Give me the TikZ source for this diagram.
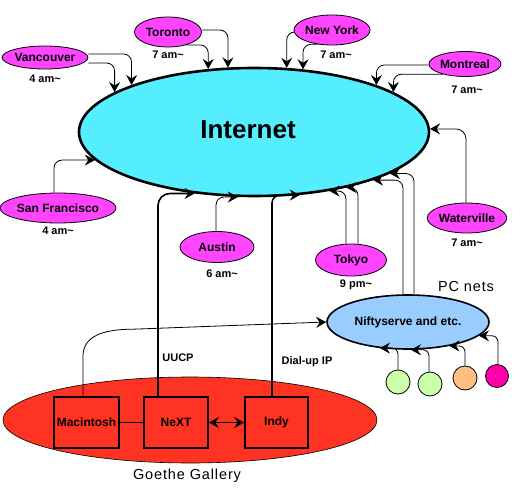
\documentclass[tikz,border=0pt]{standalone}
\usepackage{fontspec}
\setmainfont{Liberation Sans}
\usetikzlibrary{arrows.meta,shapes.geometric}
\definecolor{inetc}{RGB}{85,238,255}
\definecolor{cityc}{RGB}{255,68,255}
\definecolor{niftyc}{RGB}{153,204,255}
\definecolor{galc}{RGB}{255,51,34}
\definecolor{greenc}{RGB}{204,255,170}
\definecolor{peachc}{RGB}{255,192,128}
\definecolor{pinkc}{RGB}{255,0,170}
\begin{document}
\begin{tikzpicture}[x=1pt,y=-1pt,
  city/.style={ellipse,draw,fill=cityc,line width=0.8pt,inner sep=0pt,font=\bfseries\fontsize{12}{14}\selectfont},
  timelbl/.style={font=\bfseries\fontsize{11}{13}\selectfont,inner sep=0pt},
  tipb/.tip={Stealth[length=10pt,width=11pt,inset=3.5pt]},
  arr/.style={-tipb,line width=0.8pt,rounded corners=8pt},
  thickarr/.style={-tipb,line width=1.6pt,rounded corners=12pt},
  machine/.style={rectangle,draw,line width=1.6pt,inner sep=0pt,minimum height=51pt,font=\bfseries\fontsize{12}{14}\selectfont},
  pc/.style={circle,draw,line width=0.8pt,inner sep=0pt,minimum size=24pt},
  plain/.style={inner sep=0pt,font=\fontsize{14.5}{16}\selectfont\addfontfeature{LetterSpace=6}},
  linklbl/.style={inner sep=0pt,font=\bfseries\fontsize{11}{13}\selectfont}
]
\useasboundingbox (0,0) rectangle (514,489);

% Goethe Gallery
\node[ellipse,draw,fill=galc,line width=0.6pt,minimum width=374pt,minimum height=86pt,inner sep=0pt] (gal) at (190,420) {};
\node[plain] (galtxt) at (187,476) {Goethe Gallery};
\node[machine,minimum width=65pt] (mac) at (86.5,422.5) {Macintosh};
\node[machine,minimum width=64pt] (next) at (176,422.5) {NeXT};
\node[machine,minimum width=63pt] (indy) at (276.5,422.5) {Indy};
\draw[line width=1.6pt] (mac) -- (next);
\draw[{Stealth[length=10pt,width=11pt,inset=3.5pt]}-{Stealth[length=10pt,width=11pt,inset=3.5pt]},line width=1.6pt] (next) -- (indy);

% Internet
\node[ellipse,draw,fill=inetc,line width=2.6pt,minimum width=350pt,minimum height=128pt,inner sep=0pt] (inet) at (254,132) {};
\node[inner sep=0pt,font=\bfseries\fontsize{26}{30}\selectfont] (inettxt) at (248,130) {Internet};

% cities
\node[city,minimum width=76pt,minimum height=23pt] (vanc) at (45,57.5) {Vancouver};
\node[timelbl] (vanct) at (45,79) {4 am\char`~};
\node[city,minimum width=67pt,minimum height=30pt] (tor) at (168,32) {Toronto};
\node[timelbl] (tort) at (168,55) {7 am\char`~};
\node[city,minimum width=70pt,minimum height=30pt] (ny) at (332,30) {New York};
\node[timelbl] (nyt) at (336,55) {7 am\char`~};
\node[city,minimum width=72pt,minimum height=25pt] (mon) at (465,64) {Montreal};
\node[timelbl] (mont) at (467,90) {7 am\char`~};
\node[city,minimum width=90pt,minimum height=30pt] (sf) at (58,208) {San Francisco};
\node[timelbl] (sft) at (58,231) {4 am\char`~};
\node[city,minimum width=74pt,minimum height=31pt] (aus) at (217,247) {Austin};
\node[timelbl] (aust) at (222,274) {6 am\char`~};
\node[city,minimum width=71pt,minimum height=32pt] (tok) at (351,260) {Tokyo};
\node[timelbl] (tokt) at (356,285) {9 pm\char`~};
\node[city,minimum width=77pt,minimum height=30pt] (wat) at (467,218) {Waterville};
\node[timelbl] (watt) at (467,243) {7 am\char`~};

% PC nets
\node[ellipse,draw,fill=niftyc,line width=1.6pt,minimum width=162pt,minimum height=54pt,inner sep=0pt,font=\bfseries\fontsize{12}{14}\selectfont] (nifty) at (408,322) {Niftyserve and etc.};
\node[plain] (pcnets) at (466,287) {PC nets};
\node[pc,fill=greenc] (c1) at (398,382) {};
\node[pc,fill=greenc] (c2) at (430,384) {};
\node[pc,fill=peachc] (c3) at (465,378) {};
\node[pc,fill=pinkc,minimum size=23pt] (c4) at (497,376) {};

% arrows into Internet from above
\draw[arr] ([yshift=3.5pt]vanc.east) -| (inet.159.5);
\draw[arr] ([yshift=-5.5pt]vanc.east) -| (inet.164.5);
\draw[arr] ([yshift=2pt]tor.east) -| (inet.112.1);
\draw[arr] (tor.-35) -| (inet.126.6);
\draw[arr] ([yshift=-2pt]ny.west) -| (inet.63.4);
\draw[arr] (ny.-135) -| (inet.52.3);
\draw[arr] ([yshift=-1pt]mon.west) -| (inet.21.9);
\draw[arr] (mon.-155) -| (inet.16.9);

% arrows into Internet from below
\draw[arr] ([xshift=-4pt]sf.north) |- (inet.190.8);
\draw[arr] ([xshift=-1pt]aus.north) |- (inet.256.4);
\draw[arr] ([xshift=-5pt]tok.north) |- (inet.322.9);
\draw[arr] ([xshift=7pt]tok.north) |- (inet.329);
\draw[arr] ([xshift=-5pt]nifty.north) |- (inet.338.9);
\draw[arr] ([xshift=6pt]nifty.north) |- (inet.343);
\draw[arr,rounded corners=10pt] ([xshift=-1pt]wat.north) |- (inet.1.3);
\draw[thickarr] ([xshift=-18pt]next.north) |- (inet.226.9);
\draw[thickarr,rounded corners=8pt] ([xshift=-4.5pt]indy.north) |- (inet.306.3);
\node[linklbl] (uucp) at (178,358) {UUCP};
\node[linklbl] (dial) at (307,362) {Dial-up IP};

% Macintosh to Niftyserve
\draw[-tipb,line width=0.8pt] ([xshift=-3.5pt]mac.north) -- ++(0,-40) .. controls +(0,-20) and +(-30,0) .. ++(50,-27) -- (nifty.west);

% PCs to Niftyserve
\draw[arr,rounded corners=6pt] (c1.north) |- (nifty.223);
\draw[arr,rounded corners=6pt] ([xshift=-1pt]c2.north) |- (nifty.276);
\draw[arr,rounded corners=6pt] (c3.north) |- (nifty.330.4);
\draw[arr,rounded corners=6pt] ([xshift=1pt]c4.north) |- (nifty.349.9);
\end{tikzpicture}
\end{document}
